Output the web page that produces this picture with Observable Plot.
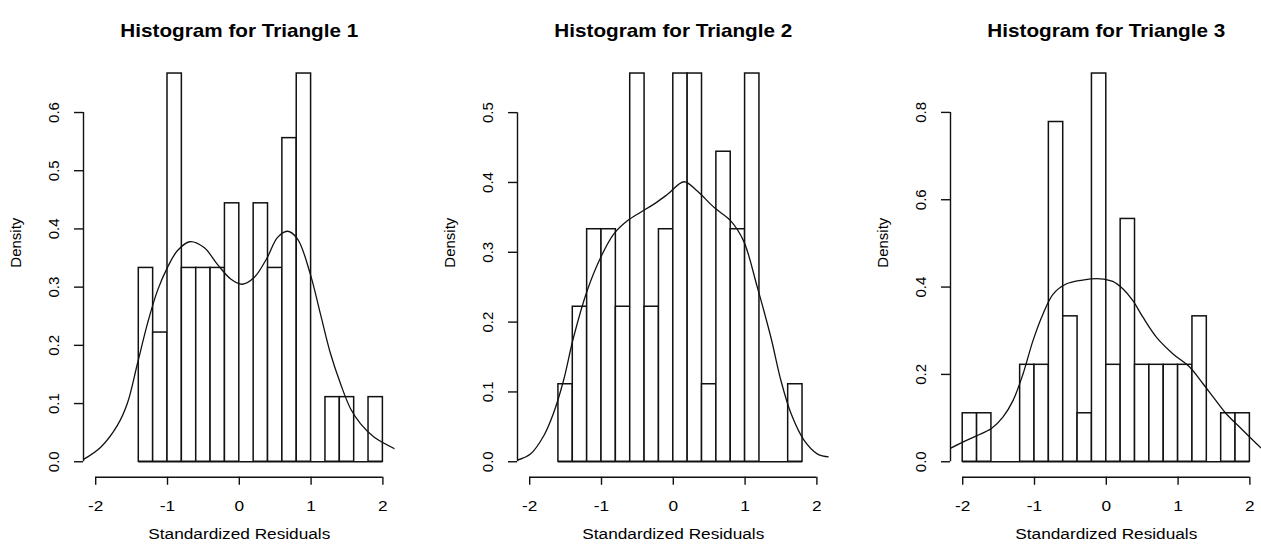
<!DOCTYPE html>
<html><head><meta charset="utf-8">
<script src="https://cdn.jsdelivr.net/npm/d3@7"></script>
<script src="https://cdn.jsdelivr.net/npm/@observablehq/plot@0.6"></script>
<style>
html,body{margin:0;padding:0;background:#fff;overflow:hidden;}
#root{position:relative;width:1261px;height:549px;overflow:hidden;background:#fff;}
#root > div{position:absolute;top:0;}
#root svg{max-width:none !important;}
</style></head><body><div id="root"></div>
<script>
// ---------- data ----------
const titles = ["Histogram for Triangle 1", "Histogram for Triangle 2", "Histogram for Triangle 3"];
const xLabel = "Standardized Residuals";
const yLabel = "Density";
const xTicks = [-2, -1, 0, 1, 2];

const tri1Breaks = [-1.4,-1.2,-1.0,-0.8,-0.6,-0.4,-0.2,0,0.2,0.4,0.6,0.8,1.0,1.2,1.4,1.6,1.8,2.0];
const tri1Density = [0.333,0.222,0.667,0.333,0.333,0.333,0.444,0,0.444,0.333,0.556,0.667,0,0.111,0.111,0,0.111];
const tri1KdeX = [-2.17,-1.93,-1.70,-1.56,-1.42,-1.28,-1.14,-1.00,-0.86,-0.69,-0.49,-0.31,-0.12,0.04,0.21,0.39,0.53,0.67,0.81,0.99,1.13,1.27,1.41,1.55,1.69,1.88,2.17];
const tri1KdeY = [0.004,0.025,0.062,0.100,0.168,0.237,0.294,0.334,0.363,0.378,0.368,0.340,0.314,0.305,0.317,0.351,0.385,0.396,0.383,0.322,0.254,0.186,0.134,0.091,0.065,0.042,0.022];
const tri1YTicks = [0, 0.1, 0.2, 0.3, 0.4, 0.5, 0.6];

const tri2Breaks = [-1.6,-1.4,-1.2,-1.0,-0.8,-0.6,-0.4,-0.2,0,0.2,0.4,0.6,0.8,1.0,1.2,1.4,1.6,1.8];
const tri2Density = [0.111,0.222,0.333,0.333,0.222,0.556,0.222,0.333,0.556,0.556,0.111,0.444,0.333,0.556,0,0,0.111];
const tri2KdeX = [-2.18,-1.99,-1.80,-1.67,-1.53,-1.39,-1.20,-1.01,-0.83,-0.64,-0.46,-0.27,-0.08,0.15,0.33,0.57,0.80,0.98,1.17,1.36,1.50,1.64,1.82,2.01,2.17];
const tri2KdeY = [0.002,0.011,0.038,0.069,0.116,0.178,0.245,0.293,0.326,0.345,0.357,0.369,0.383,0.401,0.388,0.364,0.345,0.316,0.250,0.178,0.116,0.069,0.031,0.011,0.007];
const tri2YTicks = [0, 0.1, 0.2, 0.3, 0.4, 0.5];

const tri3Breaks = [-2.0,-1.8,-1.6,-1.4,-1.2,-1.0,-0.8,-0.6,-0.4,-0.2,0,0.2,0.4,0.6,0.8,1.0,1.2,1.4,1.6,1.8,2.0];
const tri3Density = [0.111,0.111,0,0,0.222,0.222,0.778,0.333,0.111,0.889,0.222,0.556,0.222,0.222,0.222,0.222,0.333,0,0.111,0.111];
const tri3KdeX = [-2.18,-2.00,-1.80,-1.60,-1.44,-1.30,-1.16,-1.02,-0.88,-0.74,-0.56,-0.33,-0.09,0.09,0.23,0.37,0.51,0.70,0.93,1.16,1.35,1.49,1.67,1.86,2.00,2.14,2.20];
const tri3KdeY = [0.030,0.045,0.060,0.076,0.102,0.140,0.201,0.278,0.339,0.384,0.407,0.416,0.419,0.413,0.396,0.369,0.331,0.285,0.247,0.217,0.178,0.148,0.110,0.079,0.056,0.034,0.026];
const tri3YTicks = [0, 0.2, 0.4, 0.6, 0.8];

// ---------- layout ----------
const xDomain = [-2.17, 2.17];
const panelLefts = [0.7, 434.7, 868.3];
const ML = 82, MR = 20, MT = 57.5, MB = 72.2, PW = 311.6, H = 549;
const W = ML + PW + MR;
const ink = "#111";
const font = "'Liberation Sans', Arial, Helvetica, sans-serif";

const panels = [
  {title: titles[0], breaks: tri1Breaks, density: tri1Density, kx: tri1KdeX, ky: tri1KdeY, yTicks: tri1YTicks},
  {title: titles[1], breaks: tri2Breaks, density: tri2Density, kx: tri2KdeX, ky: tri2KdeY, yTicks: tri2YTicks},
  {title: titles[2], breaks: tri3Breaks, density: tri3Density, kx: tri3KdeX, ky: tri3KdeY, yTicks: tri3YTicks}
];

const root = document.getElementById("root");

panels.forEach((p, i) => {
  const bins = p.density.map((d, j) => ({x1: p.breaks[j], x2: p.breaks[j + 1], d}));
  const kde = p.kx.map((x, j) => ({x, y: p.ky[j]}));
  const yMax = d3.max(p.density);
  const yDomain = [-0.04 * yMax, 1.04 * yMax];
  const svg = Plot.plot({
    width: W, height: H,
    marginLeft: ML, marginRight: MR, marginTop: MT, marginBottom: MB,
    x: {domain: xDomain},
    y: {domain: yDomain},
    style: {fontFamily: font, fontSize: "15px", color: "#000", background: "white", overflow: "visible", maxWidth: "none"},
    marks: [
      Plot.rect(bins, {x1: "x1", x2: "x2", y1: 0, y2: "d", fill: "white", stroke: ink, strokeWidth: 1.5}),
      Plot.ruleY([0], {x1: p.breaks[0], x2: p.breaks[p.breaks.length - 1], stroke: ink, strokeWidth: 1.5}),
      Plot.line(kde, {x: "x", y: "y", curve: "catmull-rom", stroke: ink, strokeWidth: 1.3, clip: true}),
      Plot.ruleY([yDomain[0]], {x1: xTicks[0], x2: xTicks[xTicks.length - 1], stroke: ink, strokeWidth: 1.4}),
      Plot.ruleX([xDomain[0]], {y1: p.yTicks[0], y2: p.yTicks[p.yTicks.length - 1], stroke: ink, strokeWidth: 1.4}),
      Plot.axisX({ticks: xTicks, tickSize: 8, tickPadding: 15, tickFormat: d => String(d), label: null, fontSize: 15, stroke: ink, strokeWidth: 1.4, fill: "#000"}),
      Plot.axisY({ticks: p.yTicks, tickSize: 9, tickPadding: 20, tickRotate: -90, textAnchor: "middle", lineAnchor: "middle", tickFormat: d => d.toFixed(1), label: null, fontSize: 15, stroke: ink, strokeWidth: 1.4, fill: "#000"}),
      Plot.text([p.title], {frameAnchor: "top", dy: -33.8, text: d => d, fontWeight: "bold", fontSize: 18, fill: "#000"}),
      Plot.text([xLabel], {frameAnchor: "bottom", dy: 62, text: d => d, fontSize: 15, fill: "#000"}),
      Plot.text([yLabel], {frameAnchor: "left", dx: -67, rotate: -90, text: d => d, fontSize: 15, fill: "#000"})
    ]
  });
  svg.style.maxWidth = "none";
  svg.setAttribute("width", W);
  const wrap = document.createElement("div");
  wrap.style.left = panelLefts[i] + "px";
  wrap.style.width = W + "px";
  wrap.style.height = H + "px";
  wrap.appendChild(svg);
  root.appendChild(wrap);
});

// the reference's horizontal text is stretched about 15% wider than its height suggests
root.querySelectorAll("svg text").forEach(t => {
  const tr = t.getAttribute("transform") || "";
  if (tr.includes("rotate")) return;
  const L = t.getComputedTextLength();
  if (L > 0) {
    t.setAttribute("textLength", (L * 1.15).toFixed(2));
    t.setAttribute("lengthAdjust", "spacingAndGlyphs");
  }
});
</script></body></html>
